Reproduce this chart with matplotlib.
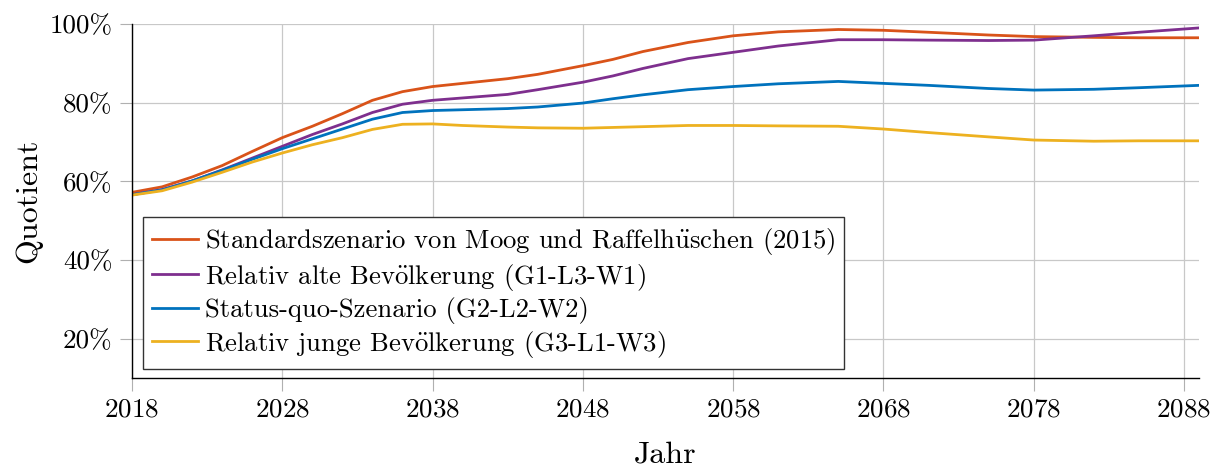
import matplotlib
matplotlib.use("Agg")
import matplotlib.pyplot as plt
from matplotlib.ticker import FuncFormatter

years = [2018, 2020, 2022, 2024, 2026, 2028, 2030, 2032, 2034, 2036, 2038, 2040,
         2043, 2045, 2048, 2050, 2052, 2055, 2058, 2061, 2065, 2068, 2071, 2075,
         2078, 2082, 2085, 2089]
standard = [57.2, 58.6, 61.1, 64.0, 67.6, 71.1, 74.0, 77.2, 80.6, 82.8, 84.1, 84.9,
            86.1, 87.2, 89.4, 91.0, 93.0, 95.3, 97.0, 98.0, 98.6, 98.4, 97.9, 97.2,
            96.8, 96.6, 96.5, 96.5]
alt = [56.6, 57.9, 60.1, 62.9, 65.9, 68.9, 71.9, 74.6, 77.5, 79.6, 80.6, 81.2,
       82.1, 83.3, 85.2, 86.8, 88.7, 91.2, 92.8, 94.4, 96.0, 96.0, 95.9, 95.8,
       95.9, 97.0, 97.9, 99.0]
statusquo = [56.6, 57.8, 60.1, 62.8, 65.6, 68.3, 70.8, 73.3, 75.8, 77.5, 78.0, 78.2,
             78.5, 78.9, 79.9, 81.0, 82.0, 83.3, 84.1, 84.8, 85.4, 84.9, 84.4, 83.6,
             83.2, 83.4, 83.8, 84.4]
jung = [56.5, 57.6, 59.8, 62.3, 64.9, 67.2, 69.3, 71.1, 73.2, 74.5, 74.6, 74.2,
        73.8, 73.6, 73.5, 73.7, 73.9, 74.2, 74.2, 74.1, 74.0, 73.3, 72.4, 71.3,
        70.5, 70.2, 70.3, 70.3]

labels = [r"Standardszenario von Moog und Raffelh$\ddot{\mathrm{u}}$schen (2015)",
          r"Relativ alte Bev$\ddot{\mathrm{o}}$lkerung (G1-L3-W1)",
          r"Status-quo-Szenario (G2-L2-W2)",
          r"Relativ junge Bev$\ddot{\mathrm{o}}$lkerung (G3-L1-W3)"]
colors = ["#D95319", "#7E2F8E", "#0072BD", "#EDB120"]
xticks = [2018, 2028, 2038, 2048, 2058, 2068, 2078, 2088]
yticks = [20, 40, 60, 80, 100]

plt.rcParams['font.family'] = ['cmr10', 'DejaVu Serif']
plt.rcParams['mathtext.fontset'] = 'cm'
plt.rcParams['axes.formatter.use_mathtext'] = True

fig = plt.figure(figsize=(12.22, 4.68), dpi=100)
ax = fig.add_axes([132/1222, 1-378/468, (1199-132)/1222, (378-24)/468])

for series, lab, col in zip([standard, alt, statusquo, jung], labels, colors):
    ax.plot(years, series, color=col, lw=2.0, label=lab, solid_joinstyle="round")

ax.set_xlim(2018, 2089)
ax.set_ylim(10, 100)
ax.set_xticks(xticks)
ax.set_yticks(yticks)
ax.yaxis.set_major_formatter(FuncFormatter(lambda v, p: f"{int(v)}%"))
ax.grid(True, color="#c8c8c8", lw=0.9)
ax.set_axisbelow(True)
for s in ["top", "right"]:
    ax.spines[s].set_visible(False)
for s in ["left", "bottom"]:
    ax.spines[s].set_color("black")
    ax.spines[s].set_linewidth(1.0)
ax.tick_params(axis="both", direction="out", length=9, color="#b0b0b0",
               labelsize=19.5, pad=5)
ax.set_xlabel("Jahr", fontsize=23)
ax.set_ylabel("Quotient", fontsize=23)
ax.xaxis.set_label_coords(0.5, -0.177)
ax.yaxis.set_label_coords(-0.084, 0.5)

leg = ax.legend(loc="lower left", fontsize=19.2, fancybox=False, framealpha=1,
                edgecolor="#333333", handlelength=1.7, handletextpad=0.26,
                labelspacing=0.17, borderaxespad=0.0, borderpad=0.35,
                bbox_to_anchor=(11/1067, 9/354))
leg.get_frame().set_linewidth(1.0)

fig.savefig("out.png", dpi=100)
